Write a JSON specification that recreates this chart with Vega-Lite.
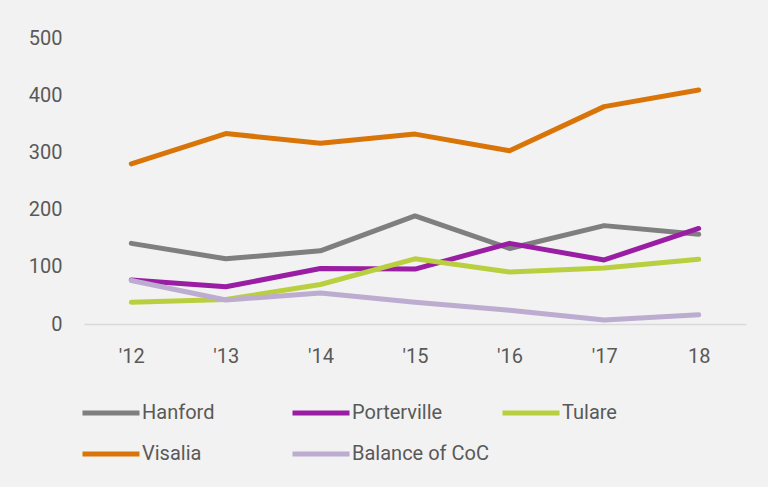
{
  "$schema": "https://vega.github.io/schema/vega-lite/v6.json",
  "width": 662,
  "height": 286,
  "autosize": {"type": "none"},
  "padding": {"left": 84, "top": 38, "right": 22, "bottom": 163},
  "background": "#f2f2f2",
  "config": {
    "view": {"stroke": null},
    "font": "Roboto",
    "axis": {"labelColor": "#595959", "labelFontSize": 20, "labelFont": "Roboto"},
    "legend": {"labelColor": "#595959", "labelFontSize": 20, "labelFont": "Roboto"}
  },
  "data": {
    "values": [
      {"year": "'12", "series": "Hanford", "value": 141},
      {"year": "'13", "series": "Hanford", "value": 114},
      {"year": "'14", "series": "Hanford", "value": 128},
      {"year": "'15", "series": "Hanford", "value": 189},
      {"year": "'16", "series": "Hanford", "value": 132},
      {"year": "'17", "series": "Hanford", "value": 172},
      {"year": "18", "series": "Hanford", "value": 157},
      {"year": "'12", "series": "Porterville", "value": 77},
      {"year": "'13", "series": "Porterville", "value": 65},
      {"year": "'14", "series": "Porterville", "value": 97},
      {"year": "'15", "series": "Porterville", "value": 96},
      {"year": "'16", "series": "Porterville", "value": 141},
      {"year": "'17", "series": "Porterville", "value": 112},
      {"year": "18", "series": "Porterville", "value": 167},
      {"year": "'12", "series": "Tulare", "value": 38},
      {"year": "'13", "series": "Tulare", "value": 43},
      {"year": "'14", "series": "Tulare", "value": 69},
      {"year": "'15", "series": "Tulare", "value": 114},
      {"year": "'16", "series": "Tulare", "value": 91},
      {"year": "'17", "series": "Tulare", "value": 98},
      {"year": "18", "series": "Tulare", "value": 113},
      {"year": "'12", "series": "Visalia", "value": 280},
      {"year": "'13", "series": "Visalia", "value": 333},
      {"year": "'14", "series": "Visalia", "value": 316},
      {"year": "'15", "series": "Visalia", "value": 332},
      {"year": "'16", "series": "Visalia", "value": 303},
      {"year": "'17", "series": "Visalia", "value": 380},
      {"year": "18", "series": "Visalia", "value": 409},
      {"year": "'12", "series": "Balance of CoC", "value": 76},
      {"year": "'13", "series": "Balance of CoC", "value": 42},
      {"year": "'14", "series": "Balance of CoC", "value": 54},
      {"year": "'15", "series": "Balance of CoC", "value": 38},
      {"year": "'16", "series": "Balance of CoC", "value": 24},
      {"year": "'17", "series": "Balance of CoC", "value": 7},
      {"year": "18", "series": "Balance of CoC", "value": 16}
    ]
  },
  "mark": {"type": "line", "strokeWidth": 5, "strokeCap": "round", "strokeJoin": "round"},
  "encoding": {
    "x": {
      "field": "year", "type": "ordinal", "sort": null,
      "scale": {"paddingOuter": 0.5, "paddingInner": 0},
      "axis": {"title": null, "labelAngle": 0, "ticks": false, "domainColor": "#d9d9d9", "domainWidth": 1.5, "labelPadding": 22}
    },
    "y": {
      "field": "value", "type": "quantitative",
      "scale": {"domain": [0, 500], "nice": false},
      "axis": {"title": null, "values": [0, 100, 200, 300, 400, 500], "domain": false, "ticks": false, "grid": false, "labelPadding": 22}
    },
    "color": {
      "field": "series", "type": "nominal",
      "scale": {
        "domain": ["Hanford", "Porterville", "Tulare", "Visalia", "Balance of CoC"],
        "range": ["#7f7f7f", "#991ea3", "#b9cf3f", "#d97508", "#bcacd0"]
      },
      "legend": {
        "title": null, "orient": "none", "legendX": -4, "legendY": 344,
        "direction": "horizontal", "columns": 3, "gridAlign": "all",
        "symbolType": "stroke", "symbolSize": 3249, "symbolStrokeWidth": 5,
        "labelOffset": 0, "columnPadding": 3, "rowPadding": -8
      }
    }
  }
}
